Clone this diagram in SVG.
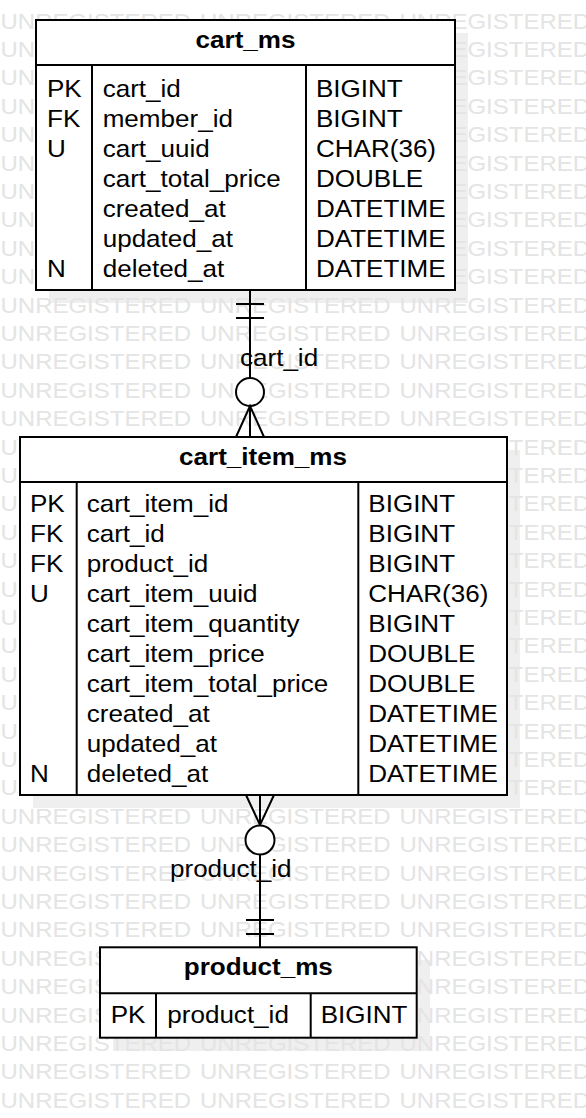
<svg xmlns="http://www.w3.org/2000/svg" width="586" height="1118" viewBox="0 0 586 1118">
<style>
.wm{font-family:"Liberation Sans",Arial,sans-serif;font-size:22px;fill:#e4e4e4}
.box{fill:#fff;stroke:#000;stroke-width:2}
.shadow{fill:#efefef}
.div{stroke:#000;stroke-width:2;fill:none}
.t{font-family:"Liberation Sans",Arial,sans-serif;font-size:24px;fill:#000}
.title{font-weight:bold;text-anchor:middle}
.ln{stroke:#000;stroke-width:2;fill:none}
.circ{stroke:#000;stroke-width:2;fill:#fff}
</style>
<defs>
<g id="wmrow">
<text class="wm" x="0.5" y="0" textLength="190.5" lengthAdjust="spacingAndGlyphs">UNREGISTERED</text>
<text class="wm" x="200" y="0" textLength="190.5" lengthAdjust="spacingAndGlyphs">UNREGISTERED</text>
<text class="wm" x="399.5" y="0" textLength="190.5" lengthAdjust="spacingAndGlyphs">UNREGISTERED</text>
</g>
</defs>
<rect width="586" height="1118" fill="#fff"/>
<g id="shadows">
<rect class="shadow" x="49" y="33" width="419" height="270"/>
<rect class="shadow" x="33" y="450" width="487" height="358"/>
<rect class="shadow" x="113" y="960" width="317" height="91"/>
</g>
<g id="watermark">
<use href="#wmrow" y="28.5"/><use href="#wmrow" y="56.9"/><use href="#wmrow" y="85.3"/><use href="#wmrow" y="113.7"/><use href="#wmrow" y="142.1"/><use href="#wmrow" y="170.5"/><use href="#wmrow" y="198.9"/><use href="#wmrow" y="227.3"/><use href="#wmrow" y="255.7"/><use href="#wmrow" y="284.1"/><use href="#wmrow" y="312.5"/><use href="#wmrow" y="340.9"/><use href="#wmrow" y="369.3"/><use href="#wmrow" y="397.7"/><use href="#wmrow" y="426.1"/><use href="#wmrow" y="454.5"/><use href="#wmrow" y="482.9"/><use href="#wmrow" y="511.3"/><use href="#wmrow" y="539.7"/><use href="#wmrow" y="568.1"/><use href="#wmrow" y="596.5"/><use href="#wmrow" y="624.9"/><use href="#wmrow" y="653.3"/><use href="#wmrow" y="681.7"/><use href="#wmrow" y="710.1"/><use href="#wmrow" y="738.5"/><use href="#wmrow" y="766.9"/><use href="#wmrow" y="795.3"/><use href="#wmrow" y="823.7"/><use href="#wmrow" y="852.1"/><use href="#wmrow" y="880.5"/><use href="#wmrow" y="908.9"/><use href="#wmrow" y="937.3"/><use href="#wmrow" y="965.7"/><use href="#wmrow" y="994.1"/><use href="#wmrow" y="1022.5"/><use href="#wmrow" y="1050.9"/><use href="#wmrow" y="1079.3"/><use href="#wmrow" y="1107.7"/>
</g>
<g id="connectors">
<g id="cart_ms-cart_item_ms">
<line class="ln" x1="250" y1="290" x2="250" y2="437"/>
<line class="ln" x1="236" y1="304" x2="264" y2="304"/>
<line class="ln" x1="236" y1="318" x2="264" y2="318"/>
<circle class="circ" cx="250" cy="392" r="14"/>
<polyline class="ln" points="236,437 250,406 264,437"/>
<text class="t" transform="scale(1.085 1)" x="221.2" y="366.5">cart_id</text>
</g>
<g id="cart_item_ms-product_ms">
<line class="ln" x1="260" y1="795" x2="260" y2="947"/>
<polyline class="ln" points="246,795 260,825 274,795"/>
<circle class="circ" cx="260" cy="840" r="14.5"/>
<line class="ln" x1="246" y1="920" x2="274" y2="920"/>
<line class="ln" x1="246" y1="934" x2="274" y2="934"/>
<text class="t" transform="scale(1.085 1)" x="156.68" y="877">product_id</text>
</g>
</g>
<g id="cart_ms">
<rect class="box" x="36" y="20" width="419" height="270"/>
<line class="div" x1="36" y1="65" x2="455" y2="65"/>
<line class="div" x1="92" y1="65" x2="92" y2="290"/>
<line class="div" x1="306" y1="65" x2="306" y2="290"/>
<g class="t" transform="scale(1.085 1)">
<text class="title" x="226.27" y="48.5">cart_ms</text>
<text x="43.32" y="96.7">PK</text><text x="94.65" y="96.7">cart_id</text><text x="291.24" y="96.7">BIGINT</text>
<text x="43.32" y="126.7">FK</text><text x="94.65" y="126.7">member_id</text><text x="291.24" y="126.7">BIGINT</text>
<text x="43.32" y="156.7">U</text><text x="94.65" y="156.7">cart_uuid</text><text x="291.24" y="156.7">CHAR(36)</text>
<text x="94.65" y="186.7">cart_total_price</text><text x="291.24" y="186.7">DOUBLE</text>
<text x="94.65" y="216.7">created_at</text><text x="291.24" y="216.7">DATETIME</text>
<text x="94.65" y="246.7">updated_at</text><text x="291.24" y="246.7">DATETIME</text>
<text x="43.32" y="276.7">N</text><text x="94.65" y="276.7">deleted_at</text><text x="291.24" y="276.7">DATETIME</text>
</g>
</g>
<g id="cart_item_ms">
<rect class="box" x="20" y="437" width="487" height="358"/>
<line class="div" x1="20" y1="482" x2="507" y2="482"/>
<line class="div" x1="76.7" y1="482" x2="76.7" y2="795"/>
<line class="div" x1="358.3" y1="482" x2="358.3" y2="795"/>
<g class="t" transform="scale(1.085 1)">
<text class="title" x="242.4" y="465.5">cart_item_ms</text>
<text x="27.65" y="512">PK</text><text x="79.91" y="512">cart_item_id</text><text x="339.45" y="512">BIGINT</text>
<text x="27.65" y="542">FK</text><text x="79.91" y="542">cart_id</text><text x="339.45" y="542">BIGINT</text>
<text x="27.65" y="572">FK</text><text x="79.91" y="572">product_id</text><text x="339.45" y="572">BIGINT</text>
<text x="27.65" y="602">U</text><text x="79.91" y="602">cart_item_uuid</text><text x="339.45" y="602">CHAR(36)</text>
<text x="79.91" y="632">cart_item_quantity</text><text x="339.45" y="632">BIGINT</text>
<text x="79.91" y="662">cart_item_price</text><text x="339.45" y="662">DOUBLE</text>
<text x="79.91" y="692">cart_item_total_price</text><text x="339.45" y="692">DOUBLE</text>
<text x="79.91" y="722">created_at</text><text x="339.45" y="722">DATETIME</text>
<text x="79.91" y="752">updated_at</text><text x="339.45" y="752">DATETIME</text>
<text x="27.65" y="782">N</text><text x="79.91" y="782">deleted_at</text><text x="339.45" y="782">DATETIME</text>
</g>
</g>
<g id="product_ms">
<rect class="box" x="100" y="947.3" width="316.7" height="90.4"/>
<line class="div" x1="100" y1="993.3" x2="416.7" y2="993.3"/>
<line class="div" x1="156" y1="993.3" x2="156" y2="1037.7"/>
<line class="div" x1="310.7" y1="993.3" x2="310.7" y2="1037.7"/>
<g class="t" transform="scale(1.085 1)">
<text class="title" x="238.06" y="975">product_ms</text>
<text x="102.03" y="1023.3">PK</text><text x="154.19" y="1023.3">product_id</text><text x="295.58" y="1023.3">BIGINT</text>
</g>
</g>
</svg>
